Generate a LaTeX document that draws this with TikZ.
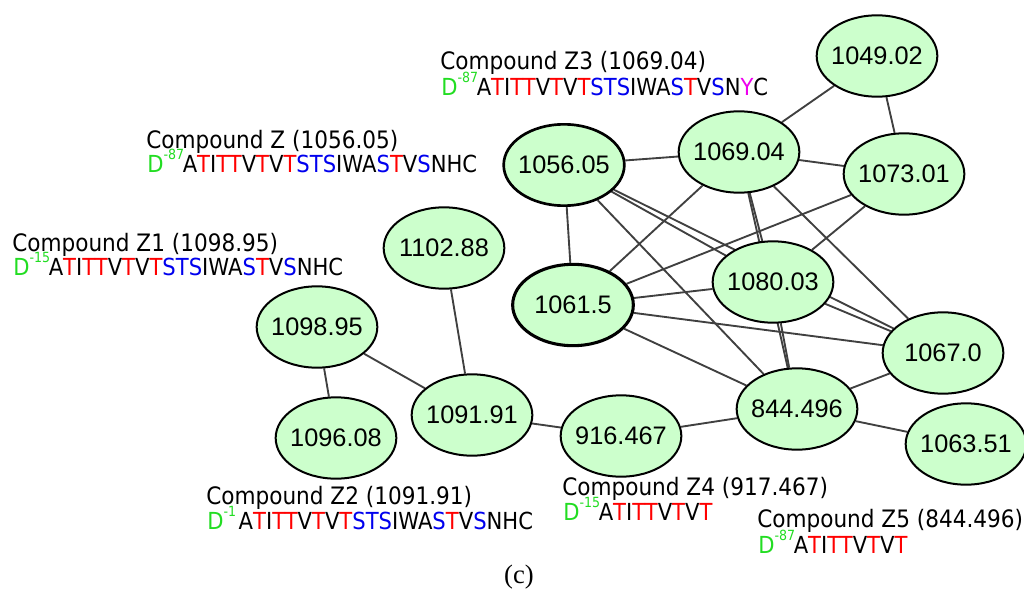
\documentclass[tikz,border=0pt]{standalone}
\usepackage{fontspec}
\setmainfont{DejaVu Sans}
\newfontfamily\lblfont[FakeStretch=0.9]{DejaVu Sans}
\newfontfamily\numfont{Liberation Sans}
\newfontfamily\capfont{Liberation Serif}
\usetikzlibrary{shapes.geometric,backgrounds}
\definecolor{nodefill}{HTML}{CCFFCC}
\definecolor{edgecol}{HTML}{404040}
\definecolor{sgreen}{HTML}{22DD22}
\definecolor{sred}{HTML}{FF0000}
\definecolor{sblue}{HTML}{0000EE}
\definecolor{smag}{HTML}{EE00EE}
\newcommand\Rr[1]{\textcolor{sred}{#1}}
\newcommand\Bb[1]{\textcolor{sblue}{#1}}
\newcommand\Dsup[1]{\textcolor{sgreen}{D\smash{\raisebox{0.55em}{\fontsize{10.5}{10.5}\selectfont #1}}}\kern-1pt}
\newcommand\seqhead{A\Rr{T}I\Rr{TT}V\Rr{T}V\Rr{T}}
\newcommand\seqlong[1]{\seqhead\Bb{STS}IWA\Bb{S}\Rr{T}V\Bb{S}N#1C}
\tikzset{
  mass/.style={ellipse, draw=black, line width=1.5pt, fill=nodefill,
    minimum width=90.5pt, minimum height=61pt, inner xsep=-2.5pt, inner ysep=0pt,
    font=\numfont\fontsize{19}{19}\selectfont},
  heavy/.style={line width=2.3pt},
  lbl/.style={anchor=base west, inner sep=0pt, font=\lblfont\fontsize{18}{18}\selectfont},
  seq/.style={lbl, font=\lblfont\fontsize{17.6}{17.6}\selectfont},
  link/.style={draw=edgecol, line width=1.4pt}
}
\begin{document}
\begin{tikzpicture}[x=0.75pt,y=-0.75pt]
\useasboundingbox (0,0) rectangle (1024,589);
% nodes
\node[mass] (n1049) at (877,56) {1049.02};
\node[mass] (n1069) at (739,152) {1069.04};
\node[mass,line width=2pt] (n1056) at (564,165) {1056.05};
\node[mass] (n1073) at (904,174) {1073.01};
\node[mass] (n1080) at (773,282) {1080.03};
\node[mass,heavy] (n1061) at (573,305) {1061.5};
\node[mass] (n1067) at (943,353) {1067.0};
\node[mass] (n844) at (797,409) {844.496};
\node[mass] (n1063) at (966,444) {1063.51};
\node[mass] (n916) at (621,436) {916.467};
\node[mass] (n1091) at (472,415) {1091.91};
\node[mass] (n1102) at (444,248) {1102.88};
\node[mass] (n1098) at (317,327) {1098.95};
\node[mass] (n1096) at (336,438) {1096.08};
% edges
\begin{pgfonlayer}{background}
\fill[white] (0,0) rectangle (1024,589);
\draw[link] (n1049) -- (n1069);
\draw[link] (n1049) -- (n1073);
\draw[link] (n1056) -- (n1069);
\draw[link] (n1069) -- (n1073);
\draw[link] (n1056) -- (n1061);
\draw[link] (n1056) -- (n1080);
\draw[link] (n1056) -- (n1067);
\draw[link] (n1056) -- (n844);
\draw[link] (n1069) -- (n1061);
\draw[link] (n1069) -- (n1080);
\draw[link] (n1069) -- (n844);
\draw[link] (n1069) -- (n1067);
\draw[link] (n1073) -- (n1061);
\draw[link] (n1073) -- (n1080);
\draw[link] (n1061) -- (n1080);
\draw[link] (n1061) -- (n1067);
\draw[link] (n1061) -- (n844);
\draw[link] (n1080) -- (n844);
\draw[link] (n1080) -- (n1067);
\draw[link] (n844) -- (n1067);
\draw[link] (n844) -- (n1063);
\draw[link] (n844) -- (n916);
\draw[link] (n916) -- (n1091);
\draw[link] (n1091) -- (n1102);
\draw[link] (n1091) -- (n1098);
\draw[link] (n1098) -- (n1096);
\end{pgfonlayer}
% labels
\node[lbl] (z3t) at (440,69) {Compound Z3 (1069.04)};
\node[seq] (z3s) at (441,95) {\Dsup{-87}\seqlong{\textcolor{smag}{Y}}};
\node[lbl] (zt) at (146,148) {Compound Z (1056.05)};
\node[seq] (zs) at (147,172) {\Dsup{-87}\seqlong{H}};
\node[lbl] (z1t) at (12,251) {Compound Z1 (1098.95)};
\node[seq] (z1s) at (13,275) {\Dsup{-15}\seqlong{H}};
\node[lbl] (z2t) at (206,504) {Compound Z2 (1091.91)};
\node[seq] (z2s) at (207,529) {\Dsup{-1}\,\seqlong{H}};
\node[lbl] (z4t) at (562,495) {Compound Z4 (917.467)};
\node[seq] (z4s) at (563,520) {\Dsup{-15}\seqhead};
\node[lbl] (z5t) at (757,527) {Compound Z5 (844.496)};
\node[seq] (z5s) at (758,553) {\Dsup{-87}\seqhead};
\node[anchor=base, inner sep=0pt, font=\capfont\fontsize{20}{20}\selectfont] (cap) at (519,583) {(c)};
\end{tikzpicture}
\end{document}
